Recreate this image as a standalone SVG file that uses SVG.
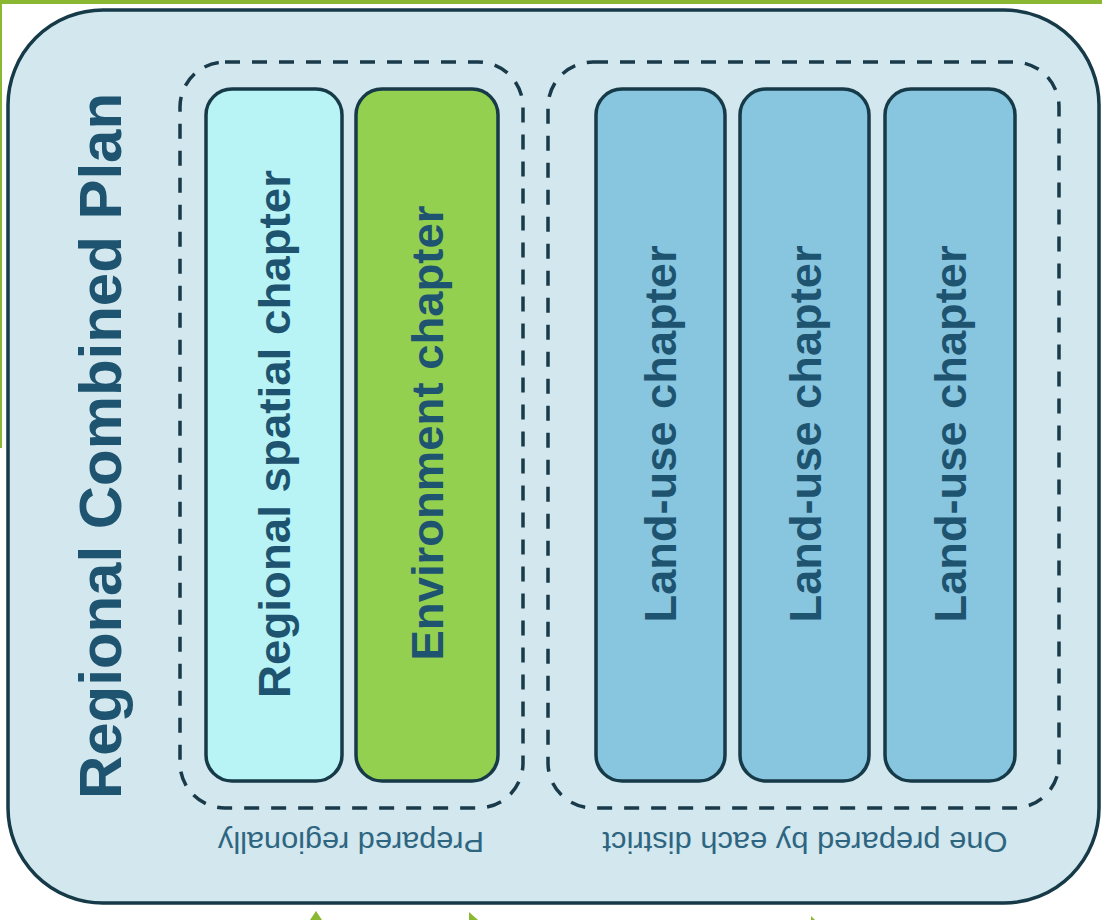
<svg xmlns="http://www.w3.org/2000/svg" width="1102" height="920" viewBox="0 0 1102 920">
<style>
.chap{stroke:#163a48;stroke-width:3.5}
.grp{fill:none;stroke:#1a3a4a;stroke-width:3.5;stroke-dasharray:15 12}
.ct{font-family:"Liberation Sans",Arial,sans-serif;font-weight:bold;font-size:45px;fill:#1e5470;text-anchor:middle}
.lbl{font-family:"Liberation Sans",Arial,sans-serif;font-size:29px;fill:#2e6580;text-anchor:middle}
</style>
<rect x="0" y="0" width="1102" height="920" fill="#ffffff"/>
<rect x="0" y="0" width="1102" height="4" fill="#8ab832"/>
<rect x="0" y="0" width="2" height="448" fill="#8ab832"/>
<g id="plan">
<rect x="8" y="10" width="1091" height="893" rx="95" fill="#d2e7ee" stroke="#163a48" stroke-width="3.5"/>
<text transform="translate(121,446) rotate(-90)" font-family="'Liberation Sans',Arial,sans-serif" font-weight="bold" font-size="60" fill="#1e5470" text-anchor="middle" textLength="706" lengthAdjust="spacingAndGlyphs">Regional Combined Plan</text>
</g>
<g id="group-regional">
<rect class="grp" x="180" y="62" width="343" height="746" rx="45"/>
<text class="lbl" transform="translate(351,832) rotate(180)" textLength="266" lengthAdjust="spacingAndGlyphs">Prepared regionally</text>
</g>
<g id="group-district">
<rect class="grp" x="548" y="62" width="511" height="746" rx="45"/>
<text class="lbl" transform="translate(805,832) rotate(180)" textLength="405" lengthAdjust="spacingAndGlyphs">One prepared by each district</text>
</g>
<g id="regional-spatial">
<rect class="chap" x="206" y="89" width="136" height="692" rx="26" fill="#b8f4f6"/>
<text class="ct" transform="translate(290,434) rotate(-90)" textLength="528" lengthAdjust="spacingAndGlyphs">Regional spatial chapter</text>
</g>
<g id="environment">
<rect class="chap" x="356" y="89" width="142" height="692" rx="26" fill="#94d050"/>
<text class="ct" transform="translate(443,433) rotate(-90)" textLength="455" lengthAdjust="spacingAndGlyphs">Environment chapter</text>
</g>
<g id="land-use-1">
<rect class="chap" x="596" y="89" width="129" height="692" rx="26" fill="#88c6e0"/>
<text class="ct" transform="translate(676,434) rotate(-90)" textLength="377" lengthAdjust="spacingAndGlyphs">Land-use chapter</text>
</g>
<g id="land-use-2">
<rect class="chap" x="740" y="89" width="129" height="692" rx="26" fill="#88c6e0"/>
<text class="ct" transform="translate(821,434) rotate(-90)" textLength="377" lengthAdjust="spacingAndGlyphs">Land-use chapter</text>
</g>
<g id="land-use-3">
<rect class="chap" x="885" y="89" width="130" height="692" rx="26" fill="#88c6e0"/>
<text class="ct" transform="translate(966,434) rotate(-90)" textLength="377" lengthAdjust="spacingAndGlyphs">Land-use chapter</text>
</g>
<g id="connectors" fill="#8ab832">
<polygon points="310,920 316,911 322,920"/>
<polygon points="469,912 469,920 478,920"/>
<polygon points="811,916 811,920 815,920"/>
</g>
</svg>
